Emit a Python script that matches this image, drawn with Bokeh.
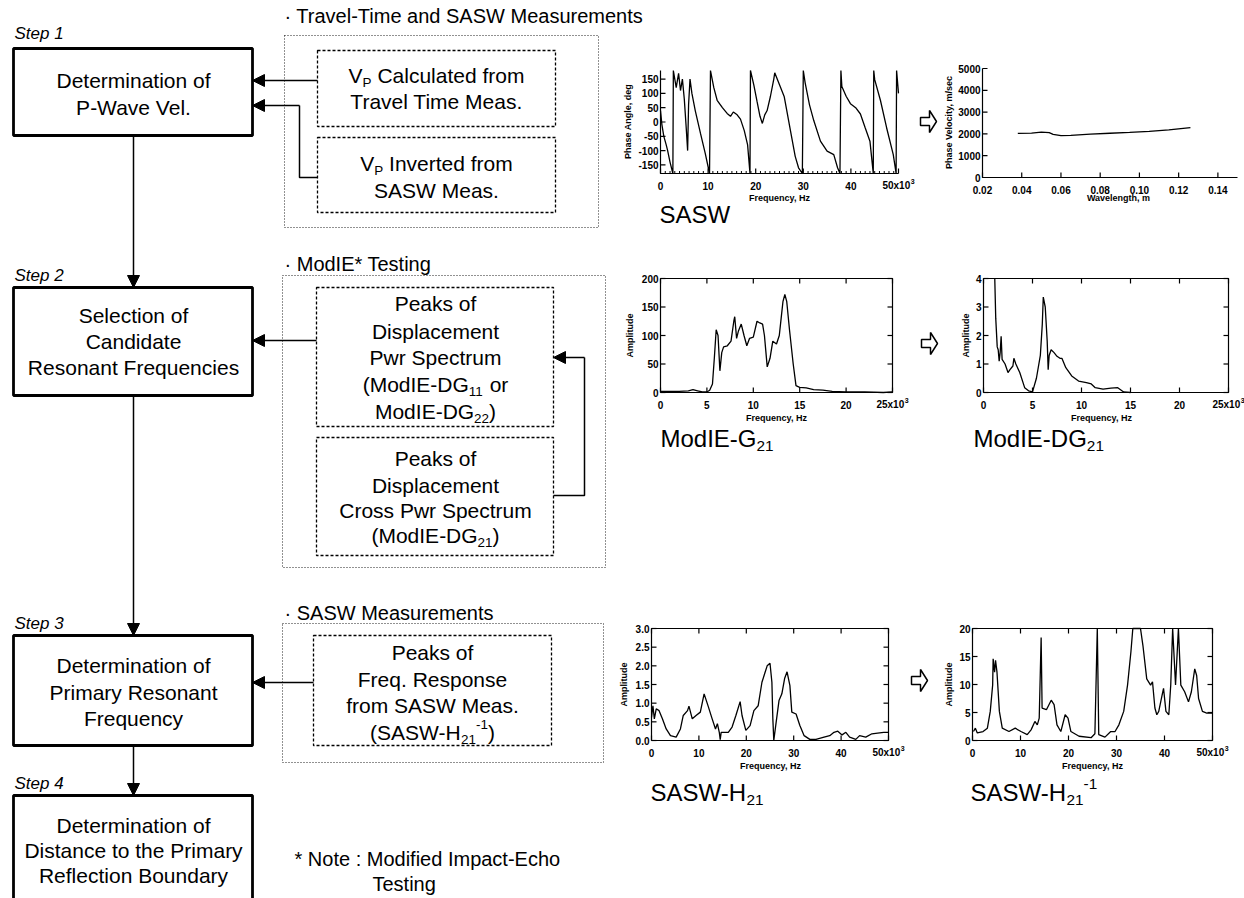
import math
from bokeh.plotting import figure
from bokeh.models import Range1d, Arrow, NormalHead
from bokeh.core.properties import value
from bokeh.embed import file_html
from bokeh.resources import INLINE

FONT = "Liberation Sans"

# ---------------- data ----------------
# SASW phase spectrum (frequency in kHz, phase in degrees)
sasw_freq_k = [0.0, 0.3, 0.7, 1.2, 1.5, 2.0, 2.6, 2.7, 3.3, 3.8, 4.2, 4.6, 5.0, 5.4, 5.7, 5.9, 6.2, 6.6, 7.3, 8.4,
               9.4, 10.3, 10.5, 11.2, 11.9, 13.0, 14.0, 14.7, 15.3, 16.1, 16.8, 17.6, 18.3, 18.8, 18.9, 19.6, 20.3,
               20.9, 21.4, 21.9, 22.4, 23.1, 23.8, 24.0, 25.0, 26.0, 27.3, 28.3, 29.0, 29.8, 30.0, 30.4, 31.3, 32.2,
               33.6, 35.0, 36.4, 37.2, 37.7, 37.9, 38.1, 39.0, 39.9, 41.0, 42.0, 43.0, 44.0, 44.7, 44.8, 45.0, 46.2,
               47.5, 48.9, 49.5, 49.6, 50.0]
sasw_phase_deg = [40, -10, -50, -80, -100, -140, -180, 180, 120, 170, 110, 150, 80, -20, -100, 60, 150, 100, 40, -40,
                  -110, -180, 180, 120, 76, 50, 30, 20, 35, 25, 10, -30, -80, -180, 180, 130, 70,
                  20, -5, 25, 40, 90, 150, 172, 130, 88, -30, -120, -160, -180, 180, 136, 60, 5,
                  -67, -102, -114, -160, -180, 180, 124, 90, 64, 50, 28, -20, -67, -180, 180, 148, 76,
                  -20, -114, -180, 180, 100]
phase_xticks = [0, 10, 20, 30, 40, 50]
phase_xlabels = ["0", "10", "20", "30", "40", "50"]
phase_yticks = [-150, -100, -50, 0, 50, 100, 150]
phase_ylabels = ["-150", "-100", "-50", "0", "50", "100", "150"]

# Dispersion curve
wavelength_m = [0.038, 0.045, 0.050, 0.054, 0.056, 0.060, 0.065, 0.075, 0.085, 0.095, 0.105, 0.115, 0.126]
phase_velocity = [2020, 2040, 2080, 2060, 1980, 1920, 1930, 1990, 2030, 2070, 2120, 2180, 2290]
vel_xticks = [0.02, 0.04, 0.06, 0.08, 0.10, 0.12, 0.14]
vel_xlabels = ["0.02", "0.04", "0.06", "0.08", "0.10", "0.12", "0.14"]
vel_yticks = [0, 1000, 2000, 3000, 4000, 5000]
vel_ylabels = ["0", "1000", "2000", "3000", "4000", "5000"]

# ModIE-G21
g21_freq_k = [0, 2.0, 3.0, 3.5, 4.0, 4.5, 5.0, 5.3, 5.6, 5.8, 6.0, 6.2, 6.4, 6.6, 6.8, 7.2, 7.6, 7.9, 8.0, 8.2,
              8.4, 8.7, 9.0, 9.3, 9.6, 10.0, 10.4, 10.7, 11.0, 11.2, 11.5, 11.8, 12.1, 12.5, 12.8, 13.0, 13.2, 13.4,
              13.6, 13.9, 14.3, 14.6, 15.0, 15.7, 16.5, 17.5, 18.5, 20.0, 22.0, 24.0, 25.0]
g21_amp = [2, 2, 3, 5, 3, 1, 1, 4, 15, 60, 110, 100, 38, 70, 80, 82, 90, 125, 133, 95,
           108, 120, 100, 82, 95, 97, 125, 122, 120, 100, 45, 60, 90, 85, 100, 130, 160, 172,
           160, 110, 50, 12, 9, 8, 5, 4, 2, 1, 1, 0, 1]
modie_xticks = [0, 5, 10, 15, 20, 25]
modie_xlabels = ["0", "5", "10", "15", "20", "25"]
g21_yticks = [0, 50, 100, 150, 200]
g21_ylabels = ["0", "50", "100", "150", "200"]

# ModIE-DG21
dg21_freq_k = [1.15, 1.25, 1.4, 1.5, 1.6, 1.7, 1.8, 1.9, 2.2, 2.5, 2.7, 3.0, 3.1, 3.3, 3.7, 4.2, 4.6, 5.0, 5.4, 5.8,
               6.0, 6.1, 6.3, 6.5, 6.6, 6.7, 6.9, 7.2, 7.5, 7.8, 8.0, 8.4, 9.0, 9.7, 10.5, 11.0, 11.4, 12.2, 13.0,
               13.7, 14.3, 15.0]
dg21_amp = [4.0, 2.6, 1.6, 1.5, 1.1, 1.4, 1.97, 1.16, 1.0, 0.7, 0.8, 0.93, 1.2, 1.0, 0.7, 0.17, 0.06, 0.02, 0.5, 1.3,
            2.4, 3.35, 3.0, 1.8, 0.8, 1.3, 1.5, 1.4, 1.27, 1.2, 1.2, 0.87, 0.58, 0.4, 0.35, 0.3, 0.17, 0.12, 0.15,
            0.17, 0.02, 0.0]
dg21_yticks = [0, 1, 2, 3, 4]
dg21_ylabels = ["0", "1", "2", "3", "4"]

# SASW-H21
h21_freq_k = [0, 0.3, 0.6, 1.0, 1.6, 2.3, 3.1, 4.0, 5.2, 6.1, 6.7, 7.6, 7.9, 8.6, 9.4, 10.3, 11.1, 12.0, 12.8, 13.5,
              13.9, 14.3, 14.5, 14.7, 16.2, 17.0, 17.8, 18.7, 19.1, 19.9, 20.8, 21.6, 22.5, 23.3, 23.9, 24.4, 25.0,
              25.4, 25.6, 25.8, 26.3, 26.9, 27.5, 28.1, 28.6, 29.2, 29.6, 30.5, 31.3, 32.2, 33.4, 34.7, 36.4, 37.6,
              38.5, 39.3, 40.2, 41.0, 41.8, 43.1, 43.9, 45.2, 46.5, 47.7, 49.0, 50.0]
h21_amp = [0.62, 0.93, 0.58, 0.85, 0.8, 0.58, 0.31, 0.13, 0.09, 0.31, 0.67, 0.8, 0.92, 0.58, 0.67, 0.76, 1.25, 0.9,
           0.58, 0.31, 0.45, 0.22, 0.02, 0.22, 0.22, 0.36, 0.67, 1.04, 0.67, 0.27, 0.4, 0.8, 0.93, 1.56, 1.8, 2.0,
           2.07, 1.56, 0.58, 0.0, 0.49, 1.07, 1.25, 1.67, 1.84, 1.47, 0.76, 0.71, 0.4, 0.13, 0.03, 0.03, 0.09, 0.13,
           0.22, 0.25, 0.15, 0.22, 0.09, 0.03, 0.13, 0.09, 0.18, 0.2, 0.22, 0.22]
sasw_xticks = [0, 10, 20, 30, 40, 50]
sasw_xlabels = ["0", "10", "20", "30", "40", "50"]
h21_yticks = [0.0, 0.5, 1.0, 1.5, 2.0, 2.5, 3.0]
h21_ylabels = ["0.0", "0.5", "1.0", "1.5", "2.0", "2.5", "3.0"]

# SASW-H21^-1
h21inv_freq_k = [0.2, 0.6, 1.0, 2.2, 3.1, 3.7, 4.2, 4.3, 4.6, 4.8, 5.1, 5.6, 6.2, 7.6, 8.9, 10.1, 11.4, 12.2, 13.0,
                 13.5, 13.9, 14.3, 14.5, 15.4, 16.4, 17.0, 17.6, 18.4, 19.3, 19.9, 20.5, 22.2, 24.7, 25.5, 26.0, 26.3,
                 27.6, 28.8, 29.7, 30.5, 31.5, 32.3, 33.0, 33.4, 35.0, 35.5, 36.3, 37.1, 37.5, 38.0, 38.4, 38.8, 39.5,
                 39.8, 40.3, 40.9, 41.3, 41.7, 42.3, 42.9, 43.4, 44.2, 45.0, 45.6, 46.3, 46.7, 47.1, 47.9, 48.8, 50.0]
h21inv_amp = [1.6, 2.2, 1.35, 1.6, 2.2, 5.2, 9.9, 14.6, 12.2, 14.3, 12.2, 5.2, 2.2, 1.6, 2.2, 1.6, 1.06, 1.9, 3.4,
              2.8, 4.0, 18.4, 5.8, 5.5, 7.2, 6.4, 2.8, 1.6, 4.6, 4.0, 1.6, 0.76, 0.5, 1.2, 20.0, 1.06,
              0.6, 1.6, 1.6, 2.8, 5.2, 9.9, 15.8, 20.0, 20.0, 17.0, 11.0, 9.9, 10.5, 5.8, 4.6, 5.2, 8.1,
              9.3, 5.2, 4.6, 9.9, 20.0, 9.9, 20.0, 9.9, 8.7, 6.9, 8.7, 12.8, 11.6, 7.5, 5.2, 4.9, 4.9]
h21inv_yticks = [0, 5, 10, 15, 20]
h21inv_ylabels = ["0", "5", "10", "15", "20"]

# ---------------- canvas ----------------
p = figure(width=1244, height=898, x_range=Range1d(0, 1244), y_range=Range1d(898, 0),
           output_backend="svg", toolbar_location=None, min_border=0,
           x_axis_location=None, y_axis_location=None)
p.grid.visible = False
p.outline_line_color = None
p.background_fill_color = "white"
p.border_fill_color = "white"

AW = {' ': 278, '!': 278, '(': 333, ')': 333, '*': 389, ',': 278, '-': 333, '.': 278, '/': 278, ':': 278,
      '\u00b7': 278, 'A': 667, 'B': 667, 'C': 722, 'D': 722, 'E': 667, 'F': 611, 'G': 778, 'H': 722, 'I': 278,
      'J': 500, 'K': 667, 'L': 556, 'M': 833, 'N': 722, 'O': 778, 'P': 667, 'Q': 778, 'R': 722, 'S': 667,
      'T': 611, 'U': 722, 'V': 667, 'W': 944, 'X': 667, 'Y': 667, 'Z': 611, 'a': 556, 'b': 556, 'c': 500,
      'd': 556, 'e': 556, 'f': 278, 'g': 556, 'h': 556, 'i': 222, 'j': 222, 'k': 500, 'l': 222, 'm': 833,
      'n': 556, 'o': 556, 'p': 556, 'q': 556, 'r': 333, 's': 500, 't': 278, 'u': 556, 'v': 500, 'w': 722,
      'x': 500, 'y': 500, 'z': 500}


def tw(s, size):
    return sum(AW.get(c, 556) for c in s) * size / 1000.0


def txt(x, y, s, size, align="left", style="normal", angle=0.0):
    p.text(x=[x], y=[y], text=[s], text_font=value(FONT), text_font_size=f"{size}px",
           text_align=align, text_baseline="middle", text_color="black",
           text_font_style=style, angle=angle)


def rich(parts, x, y, size, align="center"):
    small = size * 0.64
    ws = [tw(t, size if k == "n" else small) for t, k in parts]
    cx = x - sum(ws) / 2 if align == "center" else x
    for (t, k), w in zip(parts, ws):
        fs = size if k == "n" else small
        lead = len(t) - len(t.lstrip(" "))
        s = t.lstrip(" ")
        sx = cx + tw(" " * lead, fs)
        if k == "n":
            txt(sx, y, s, size)
        elif k == "sub":
            txt(sx, y + size * 0.32, s, small)
        else:
            txt(sx, y - size * 0.36, s, small)
        cx += w


def lines_center(lines, cx, ys, size=21):
    for ln, y in zip(lines, ys):
        if isinstance(ln, str):
            txt(cx, y, ln, size, align="center")
        else:
            rich(ln, cx, y, size)


def box(l, r, t, b, width=2.5, dash="solid", color="black"):
    p.quad(left=[l], right=[r], top=[t], bottom=[b], fill_color=None,
           line_color=color, line_width=width, line_dash=dash)


def arrow(x0, y0, x1, y1):
    p.add_layout(Arrow(end=NormalHead(size=12, fill_color="black", line_color="black", line_width=1),
                       x_start=x0, y_start=y0, x_end=x1, y_end=y1,
                       line_color="black", line_width=1.5))


def path(xs, ys):
    p.line(x=xs, y=ys, line_color="black", line_width=1.5)


def block_arrow(cx, cy):
    dx = [-8, 1, 1, 8, 1, 1, -8]
    dy = [-4, -4, -11, 0, 11, 4, 4]
    p.patch(x=[cx + a for a in dx], y=[cy + b for b in dy], fill_color="white",
            line_color="black", line_width=1.5)


# ---------------- left flow diagram ----------------
BL, BR, CX = 13, 252, 133
txt(14, 33, "Step 1", 17, style="italic")
box(BL, BR, 48, 135, width=2.8)
lines_center(["Determination of", "P-Wave Vel."], CX, [80, 107])

txt(14, 275, "Step 2", 17, style="italic")
box(BL, BR, 287, 395, width=2.8)
lines_center(["Selection of", "Candidate", "Resonant Frequencies"], CX, [315, 341, 367])

txt(14, 623, "Step 3", 17, style="italic")
box(BL, BR, 635, 745, width=2.8)
lines_center(["Determination of", "Primary Resonant", "Frequency"], CX, [665, 692, 718])

txt(14, 783, "Step 4", 17, style="italic")
box(BL, BR, 795, 910, width=2.8)
lines_center(["Determination of", "Distance to the Primary", "Reflection Boundary"], CX, [825, 850, 875])

arrow(CX, 135, CX, 287)
arrow(CX, 395, CX, 635)
arrow(CX, 745, CX, 795)

OUTER = dict(width=1, dash="1 2", color="#222222")
INNER = dict(width=1.3, dash="3 2")

# group 1
txt(284, 15, "\u00b7 Travel-Time and SASW Measurements", 20)
box(284, 598, 35, 227, **OUTER)
box(317, 555, 50, 126, **INNER)
box(317, 555, 137, 212, **INNER)
lines_center([[("V", "n"), ("P", "sub"), (" Calculated from", "n")], "Travel Time Meas."], 436, [75, 101])
lines_center([[("V", "n"), ("P", "sub"), (" Inverted from", "n")], "SASW Meas."], 436, [163, 190])
arrow(317, 80, BR, 80)
path([317, 299, 299], [177, 177, 105])
arrow(299, 105, BR, 105)

# group 2
txt(284, 263, "\u00b7 ModIE* Testing", 20)
box(282, 605, 275, 567, **OUTER)
box(316, 553, 287, 426, **INNER)
box(316, 553, 437, 555, **INNER)
lines_center(["Peaks of", "Displacement", "Pwr Spectrum",
              [("(ModIE-DG", "n"), ("11", "sub"), (" or", "n")],
              [("ModIE-DG", "n"), ("22", "sub"), (")", "n")]], 435, [303, 331, 357, 384, 411])
lines_center(["Peaks of", "Displacement", "Cross Pwr Spectrum",
              [("(ModIE-DG", "n"), ("21", "sub"), (")", "n")]], 435, [458, 485, 510, 535])
arrow(316, 340, BR, 340)
path([553, 584, 584], [495, 495, 357])
arrow(584, 357, 553, 357)

# group 3
txt(284, 612, "\u00b7 SASW Measurements", 20)
box(282, 603, 623, 762, **OUTER)
box(313, 551, 635, 745, **INNER)
lines_center(["Peaks of", "Freq. Response", "from SASW Meas.",
              [("(SASW-H", "n"), ("21", "sub"), ("-1", "sup"), (")", "n")]], 432, [652, 679, 705, 732])
arrow(313, 682, BR, 682)

txt(294, 858, "* Note : Modified Impact-Echo", 20)
txt(372, 883, "Testing", 20)


# ---------------- small charts ----------------
def chart(frame, xr, yr):
    fx0, fx1, fyb, fyt = frame
    sp = p.subplot(x_source=Range1d(start=xr[0], end=xr[1]),
                   y_source=Range1d(start=yr[0], end=yr[1]),
                   x_target=Range1d(start=fx0, end=fx1),
                   y_target=Range1d(start=fyb, end=fyt))
    kx = (xr[1] - xr[0]) / (fx1 - fx0)
    ky = (yr[1] - yr[0]) / (fyb - fyt)
    return sp, kx, ky


TICK_FS = 10


def decorate(sp, kx, ky, xr, yr, xticks, xlabels, yticks, ylabels, boxed=True, exp=True, xminor=None):
    x0, x1 = xr
    y0, y1 = yr
    kw = dict(line_color="black", line_width=1.2)
    if boxed:
        sp.line(x=[x0, x1, x1, x0, x0], y=[y0, y0, y1, y1, y0], **kw)
    else:
        sp.line(x=[x0, x0, x1], y=[y1, y0, y0], **kw)
    n, m, tl = len(xticks), len(yticks), 5
    sp.segment(x0=xticks, y0=[y0] * n, x1=xticks, y1=[y0 + tl * ky] * n, **kw)
    sp.segment(x0=[x0] * m, y0=yticks, x1=[x0 + tl * kx] * m, y1=yticks, **kw)
    if boxed:
        sp.segment(x0=xticks, y0=[y1] * n, x1=xticks, y1=[y1 - tl * ky] * n, **kw)
        sp.segment(x0=[x1] * m, y0=yticks, x1=[x1 - tl * kx] * m, y1=yticks, **kw)
    if xminor:
        k = len(xminor)
        sp.segment(x0=xminor, y0=[y0] * k, x1=xminor, y1=[y0 + 2.5 * ky] * k, line_color="black", line_width=1)
    tkw = dict(text_font=value(FONT), text_font_size=f"{TICK_FS}px", text_color="black",
               text_baseline="middle", text_font_style="bold")
    last = len(xlabels) - 1 if exp else len(xlabels)
    sp.text(x=xticks[:last], y=[y0 - 12 * ky] * last, text=xlabels[:last], text_align="center", **tkw)
    sp.text(x=[x0 - 2 * kx] * m, y=yticks, text=ylabels, text_align="right", **tkw)
    if exp:
        main = xlabels[-1] + "x10"
        w = tw(main, TICK_FS) * 1.04
        ws = tw("3", 7)
        start = xticks[-1] - (w + ws) / 2 * kx
        sp.text(x=[start], y=[y0 - 12 * ky], text=[main], text_align="left", **tkw)
        sp.text(x=[start + w * kx], y=[y0 - 8 * ky], text=["3"], text_align="left",
                text_font=value(FONT), text_font_size="7px", text_color="black",
                text_baseline="middle", text_font_style="bold")


LINE = dict(line_color="black", line_width=1.3)


def axis_titles(ylab, yx, yy, xlab, xx, xy):
    txt(yx, yy, ylab, 9, align="center", angle=math.pi / 2, style="bold")
    txt(xx, xy, xlab, 9, align="center", style="bold")


# SASW phase
xr, yr = (0, 50), (-180, 180)
sp, kx, ky = chart((660, 898, 173, 70), xr, yr)
sp.line(x=sasw_freq_k, y=sasw_phase_deg, **LINE)
decorate(sp, kx, ky, xr, yr, phase_xticks, phase_xlabels, phase_yticks, phase_ylabels, boxed=False,
         xminor=[v for v in range(0, 51) if v % 10])
axis_titles("Phase Angle, deg", 627, 121, "Frequency, Hz", 779, 197)
txt(659, 214, "SASW", 24)

# dispersion
xr, yr = (0.02, 0.15), (0, 5000)
sp, kx, ky = chart((982, 1237, 177, 68), xr, yr)
sp.line(x=wavelength_m, y=phase_velocity, **LINE)
decorate(sp, kx, ky, xr, yr, vel_xticks, vel_xlabels, vel_yticks, vel_ylabels, boxed=False, exp=False)
axis_titles("Phase Velocity, m/sec", 948, 122, "Wavelength, m", 1118, 197)
block_arrow(928, 121)

# ModIE-G21
xr, yr = (0, 25), (0, 200)
sp, kx, ky = chart((660, 892, 392, 278), xr, yr)
sp.line(x=g21_freq_k, y=g21_amp, **LINE)
decorate(sp, kx, ky, xr, yr, modie_xticks, modie_xlabels, g21_yticks, g21_ylabels)
axis_titles("Amplitude", 629, 335, "Frequency, Hz", 776, 417)
rich([("ModIE-G", "n"), ("21", "sub")], 660, 438, 24, align="left")

# ModIE-DG21
xr, yr = (0, 25), (0, 4)
sp, kx, ky = chart((983, 1228, 392, 278), xr, yr)
sp.line(x=dg21_freq_k, y=dg21_amp, **LINE)
decorate(sp, kx, ky, xr, yr, modie_xticks, modie_xlabels, dg21_yticks, dg21_ylabels)
axis_titles("Amplitude", 965, 335, "Frequency, Hz", 1101, 417)
rich([("ModIE-DG", "n"), ("21", "sub")], 973, 438, 24, align="left")
block_arrow(929, 343)

# SASW-H21
xr, yr = (0, 50), (0, 3)
sp, kx, ky = chart((651, 888, 740, 628), xr, yr)
sp.line(x=h21_freq_k, y=h21_amp, **LINE)
decorate(sp, kx, ky, xr, yr, sasw_xticks, sasw_xlabels, h21_yticks, h21_ylabels)
axis_titles("Amplitude", 623, 684, "Frequency, Hz", 770, 765)
rich([("SASW-H", "n"), ("21", "sub")], 650, 792, 24, align="left")

# SASW-H21^-1
xr, yr = (0, 50), (0, 20)
sp, kx, ky = chart((972, 1212, 740, 628), xr, yr)
sp.line(x=h21inv_freq_k, y=h21inv_amp, **LINE)
decorate(sp, kx, ky, xr, yr, sasw_xticks, sasw_xlabels, h21inv_yticks, h21inv_ylabels)
axis_titles("Amplitude", 948, 684, "Frequency, Hz", 1092, 765)
rich([("SASW-H", "n"), ("21", "sub"), ("-1", "sup")], 970, 792, 24, align="left")
block_arrow(919, 680)

open("out.html", "w").write(file_html(p, INLINE))
